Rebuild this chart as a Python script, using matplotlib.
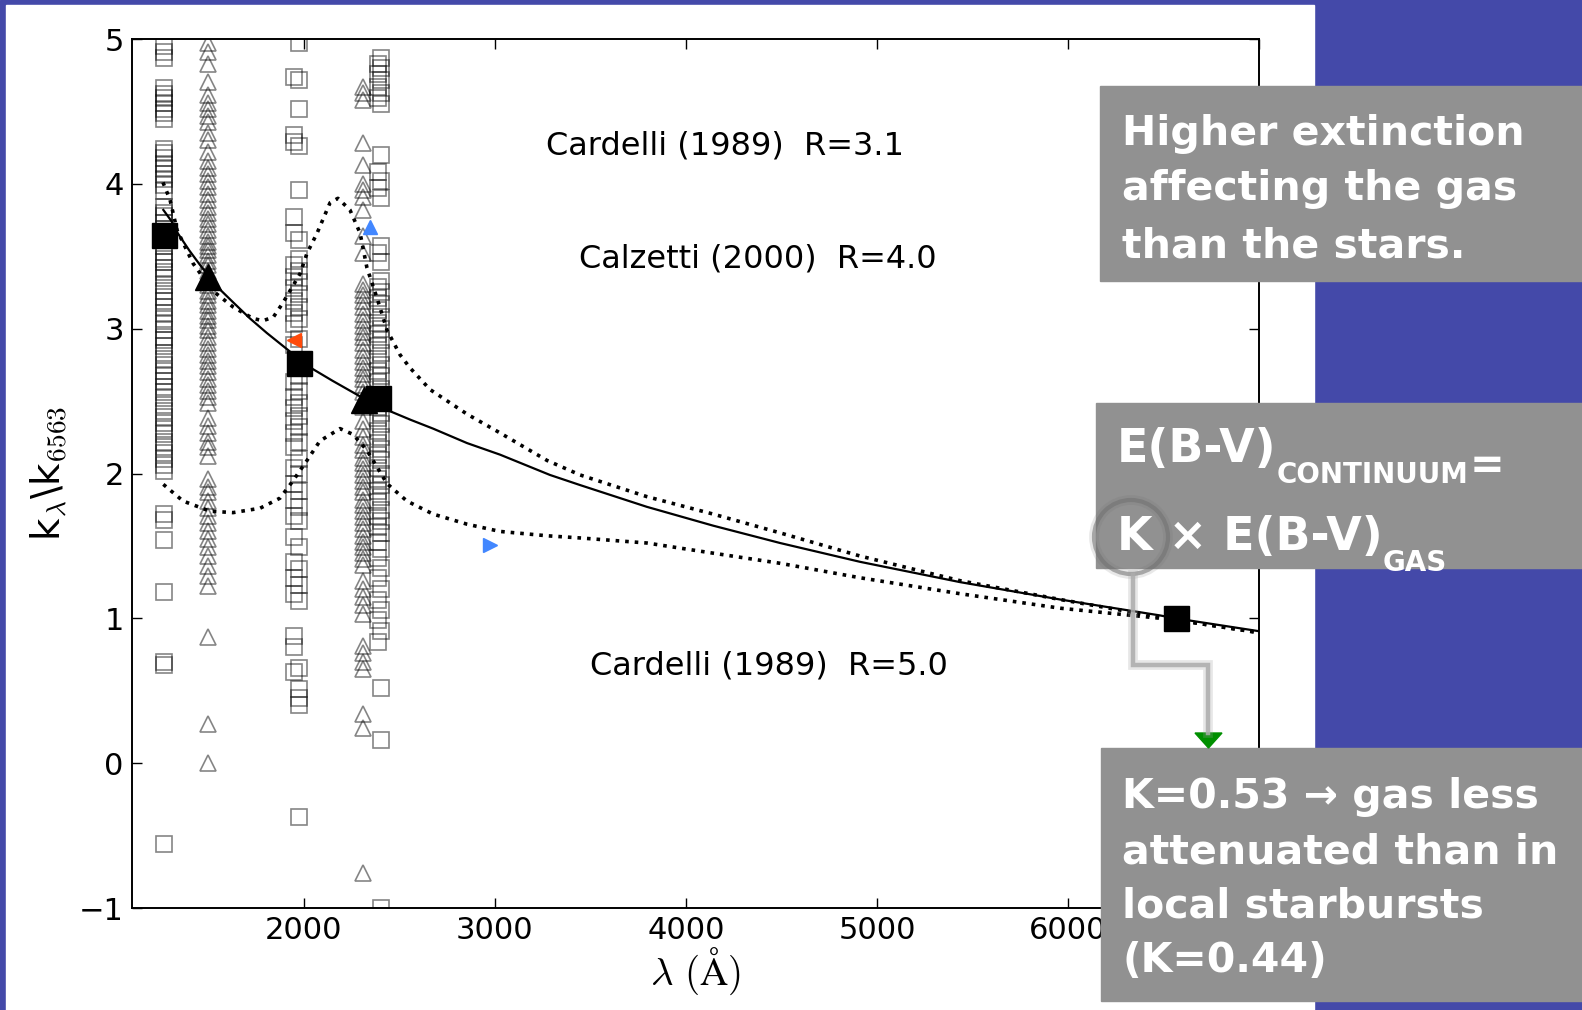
import numpy as np
import matplotlib.pyplot as plt
from matplotlib.patches import Rectangle, Circle, Polygon

plt.rcParams['mathtext.fontset'] = 'cm'
plt.rcParams['font.family'] = 'DejaVu Sans'

W, H = 1582, 1010

# --- extinction curves, normalised at H-alpha (6563 A) ---
calz_x = [1264, 1308, 1334, 1400, 1456, 1505, 1561, 1631, 1718, 1806, 1910, 1975,
          2048, 2150, 2257, 2350, 2451, 2560, 2676, 2854, 3027, 3288, 3446, 3795,
          4142, 4493, 4912, 5435, 5959, 6482, 6563, 7006]
calz_y = [3.82, 3.74, 3.67, 3.54, 3.44, 3.36, 3.27, 3.18, 3.07, 2.97, 2.86, 2.79,
          2.72, 2.64, 2.56, 2.49, 2.43, 2.37, 2.31, 2.21, 2.13, 1.99, 1.92, 1.77,
          1.64, 1.52, 1.39, 1.25, 1.13, 1.02, 1.0, 0.91]

card31_x = [1262, 1299, 1336, 1420, 1524, 1629, 1734, 1786, 1840, 1891, 1980, 2016,
            2069, 2137, 2178, 2241, 2294, 2330, 2383, 2435, 2503, 2555, 2660, 2854,
            3027, 3273, 3446, 3796, 4142, 4493, 4912, 5435, 5959, 6561, 7006]
card31_y = [4.01, 3.89, 3.68, 3.45, 3.26, 3.15, 3.07, 3.055, 3.08, 3.18, 3.38, 3.52,
            3.66, 3.87, 3.90, 3.82, 3.66, 3.42, 3.21, 2.99, 2.82, 2.73, 2.58, 2.41,
            2.28, 2.09, 1.99, 1.84, 1.72, 1.59, 1.43, 1.26, 1.13, 0.99, 0.90]

card50_x = [1264, 1367, 1508, 1629, 1770, 1875, 1943, 2016, 2084, 2189, 2257, 2330,
            2435, 2539, 2676, 2854, 3027, 3273, 3446, 3796, 4142, 4493, 4912, 5435,
            5959, 6561, 7006]
card50_y = [1.925, 1.81, 1.74, 1.73, 1.76, 1.83, 1.95, 2.09, 2.225, 2.31, 2.27, 2.16,
            1.93, 1.81, 1.72, 1.65, 1.60, 1.57, 1.555, 1.52, 1.45, 1.38, 1.28, 1.17,
            1.07, 0.99, 0.90]

# --- individual galaxies (open grey markers) ---
sq1_x = 1265
sq1_y = [4.95, 4.91, 4.87, 4.66, 4.62, 4.59, 4.56, 4.52, 4.49, 4.45,
         4.24, 4.21, 4.18, 4.14, 4.11, 4.07, 4.03, 3.99, 3.95,
         3.84, 3.80, 3.78, 3.73, 3.69, 3.61, 3.57, 3.53, 3.48, 3.46, 3.42, 3.39,
         3.35, 3.30, 3.26, 3.22, 3.19, 3.15, 3.11, 3.07, 3.03, 2.99, 2.94, 2.92,
         2.88, 2.83, 2.79, 2.75, 2.71, 2.67, 2.64, 2.60, 2.56, 2.52, 2.47, 2.43,
         2.39, 2.35, 2.31, 2.27, 2.22, 2.18, 2.14, 2.10, 2.06, 2.02,
         1.72, 1.68, 1.54, 1.18, 0.70, 0.68, -0.56]

tri2_x = 1500
tri2_y = [4.97, 4.91, 4.83, 4.70, 4.61, 4.56, 4.52, 4.47, 4.43, 4.35, 4.30, 4.22,
          4.16, 4.11, 4.07, 4.02, 3.98, 3.93, 3.89, 3.84, 3.80, 3.76, 3.72, 3.68,
          3.64, 3.60, 3.57, 3.54, 3.51, 3.47, 3.44, 3.40, 3.37, 3.33, 3.30, 3.26,
          3.23, 3.19, 3.16, 3.12, 3.09, 3.06, 3.02, 2.99, 2.94, 2.90, 2.86, 2.82,
          2.78, 2.74, 2.70, 2.65, 2.61, 2.57, 2.53, 2.49, 2.38, 2.33, 2.28, 2.22,
          2.18, 2.12, 1.96, 1.91, 1.87, 1.81, 1.76, 1.71, 1.66, 1.60, 1.55, 1.49,
          1.43, 1.36, 1.29, 1.22, 0.87, 0.27, 0.0]

sq3_x = [1975, 1950]
sq3a_y = [4.97, 4.72, 4.52, 4.26, 3.96, 3.61, 3.48, 3.40, 3.32, 3.24, 3.15, 3.07,
          2.93, 2.67, 2.57, 2.49, 2.40, 2.32, 2.22, 2.10, 2.00, 1.88, 1.77, 1.67,
          1.49, 1.34, 1.23, 1.12, 0.66, 0.51, 0.45, 0.40, -0.37]
sq3b_y = [4.74, 4.34, 4.29, 3.77, 3.66, 3.44, 3.36, 3.28, 3.19, 3.11, 3.03, 2.89,
          2.63, 2.53, 2.45, 2.36, 2.28, 2.18, 2.04, 1.93, 1.82, 1.71, 1.56, 1.39,
          1.28, 1.17, 0.88, 0.80, 0.63]

tri4_x = 2310
tri4_y = [4.67, 4.63, 4.58, 4.28, 4.13, 4.00, 3.96, 3.91, 3.82, 3.64, 3.52, 3.31,
          3.27, 3.23, 3.19, 3.15, 3.10, 3.06, 3.02, 2.98, 2.94, 2.90, 2.85, 2.81,
          2.77, 2.73, 2.69, 2.65, 2.61, 2.56, 2.51, 2.46, 2.36, 2.31, 2.25, 2.20,
          2.16, 2.11, 2.07, 2.03, 1.99, 1.95, 1.91, 1.87, 1.82, 1.78, 1.74, 1.70,
          1.66, 1.62, 1.57, 1.53, 1.49, 1.45, 1.41, 1.37, 1.26, 1.20, 1.15, 1.09,
          1.03, 0.81, 0.76, 0.70, 0.65, 0.34, 0.24, -0.76]

sq5_x = [2405, 2390]
sq5a_y = [4.87, 4.80, 4.72, 4.63, 4.55, 4.20, 4.02, 3.90, 3.57, 3.46, 3.33, 3.25,
          3.17, 3.08, 3.00, 2.92, 2.83, 2.75, 2.67, 2.58, 2.50, 2.42, 2.34, 2.25,
          2.17, 2.09, 2.00, 1.92, 1.84, 1.75, 1.67, 1.59, 1.48, 1.35, 1.20, 1.06,
          0.91, 0.52, 0.16, -1.00]
sq5b_y = [4.83, 4.76, 4.67, 4.59, 4.08, 3.97, 3.52, 3.29, 3.21, 3.13, 3.04, 2.96,
          2.88, 2.79, 2.71, 2.63, 2.54, 2.46, 2.38, 2.29, 2.21, 2.13, 2.04, 1.96,
          1.88, 1.80, 1.71, 1.63, 1.53, 1.42, 1.28, 1.13, 0.99, 0.84]

# --- stacked values (filled black) ---
stack_sq_x = [1265, 1975, 2390, 6563]
stack_sq_y = [3.65, 2.76, 2.52, 1.0]
stack_tri_x = [1500, 2313]
stack_tri_y = [3.355, 2.51]

# --- single coloured points ---
red_pt = (1948, 2.92)
blue_up = (2346, 3.70)
blue_right = (2975, 1.504)

xticks = [2000, 3000, 4000, 5000, 6000, 7000]
xticklabels = ['2000', '3000', '4000', '5000', '6000', '']
yticks = [-1, 0, 1, 2, 3, 4, 5]

fig = plt.figure(figsize=(W / 100, H / 100), dpi=100)

# slide background
bg = fig.add_axes([0, 0, 1, 1], zorder=-2)
bg.set_xlim(0, W)
bg.set_ylim(H, 0)
bg.axis('off')
bg.add_patch(Rectangle((0, 0), W, H, color='#4449A9'))
bg.add_patch(Rectangle((6, 5), 1308, H, color='white'))

ax = fig.add_axes([132 / W, 1 - 908 / H, 1127 / W, 869 / H], zorder=1)
ax.set_facecolor('none')

grey = (0, 0, 0, 0.48)
mk = dict(ls='none', mfc='none', mec=grey, mew=1.2, ms=11)
ax.plot(np.full(len(sq1_y), sq1_x), sq1_y, marker='s', **mk)
ax.plot(np.full(len(tri2_y), tri2_x), tri2_y, marker='^', **mk)
ax.plot(np.full(len(sq3a_y), sq3_x[0]), sq3a_y, marker='s', **mk)
ax.plot(np.full(len(sq3b_y), sq3_x[1]), sq3b_y, marker='s', **mk)
ax.plot(np.full(len(tri4_y), tri4_x), tri4_y, marker='^', **mk)
ax.plot(np.full(len(sq5a_y), sq5_x[0]), sq5a_y, marker='s', **mk)
ax.plot(np.full(len(sq5b_y), sq5_x[1]), sq5b_y, marker='s', **mk)

ax.plot(calz_x, calz_y, color='k', lw=1.6)
ax.plot(card31_x, card31_y, color='k', ls=':', lw=2.6)
ax.plot(card50_x, card50_y, color='k', ls=':', lw=2.6)

ax.plot(stack_sq_x, stack_sq_y, 'ks', ms=18)
ax.plot(stack_tri_x, stack_tri_y, 'k^', ms=19)

ax.plot(*red_pt, marker='<', color='#FF4A0A', ms=10)
ax.plot(*blue_up, marker='^', color='#4287FF', ms=10)
ax.plot(*blue_right, marker='>', color='#4287FF', ms=10)

lab = dict(fontsize=23, ha='left', va='center')
ax.text(3266, 4.26, 'Cardelli (1989)  R=3.1', **lab)
ax.text(3439, 3.48, 'Calzetti (2000)  R=4.0', **lab)
ax.text(3497, 0.67, 'Cardelli (1989)  R=5.0', **lab)

ax.set_xlim(1100, 7000)
ax.set_ylim(-1, 5)
ax.set_xticks(xticks)
ax.set_xticklabels(xticklabels)
ax.set_yticks(yticks)
ax.tick_params(direction='in', top=True, right=True, length=7, width=1,
               labelsize=22, pad=6)
for s in ax.spines.values():
    s.set_linewidth(1.4)
ax.set_xlabel(r'$\lambda\ (\mathrm{\AA})$', fontsize=28, labelpad=0)
ax.set_ylabel(r'k$_\lambda$\k$_{6563}$', fontsize=28, labelpad=6)

# annotation layer on top of the plot
ov = fig.add_axes([0, 0, 1, 1], zorder=3)
ov.set_xlim(0, W)
ov.set_ylim(H, 0)
ov.axis('off')
box_c = '#919191'
ov.add_patch(Rectangle((1100, 86), W - 1100, 195, color=box_c))
ov.add_patch(Rectangle((1096, 403), W - 1096, 165, color=box_c))
ov.add_patch(Rectangle((1101, 748), W - 1101, 253, color=box_c))

tk = dict(color='white', fontsize=29.5, fontweight='bold', ha='left', va='baseline')
for txt, yb in [('Higher extinction', 145), ('affecting the gas', 200),
                ('than the stars.', 257)]:
    ov.text(1122, yb, txt, **tk)
for txt, yb in [('K=0.53 \u2192 gas less', 808), ('attenuated than in', 863),
                ('local starbursts', 918), ('(K=0.44)', 972)]:
    ov.text(1122, yb, txt, **tk)

tk2 = dict(color='white', fontweight='bold', va='baseline')
t1 = ov.text(1117, 462, 'E(B-V)', fontsize=33, **tk2)
t2 = ov.annotate('CONTINUUM', xy=(1, 0), xycoords=t1, xytext=(0, -8),
                 textcoords='offset points', fontsize=20, **tk2)
ov.annotate('=', xy=(1, 0), xycoords=t2, xytext=(1, 8),
            textcoords='offset points', fontsize=30, **tk2)
t3 = ov.text(1117, 550, 'K \u00d7 E(B-V)', fontsize=33, **tk2)
ov.annotate('GAS', xy=(1, 0), xycoords=t3, xytext=(0, -8),
            textcoords='offset points', fontsize=20, **tk2)

# pointer from the K factor down to the H-alpha point
path_x = [1133, 1133, 1208, 1208]
path_y = [575, 665, 665, 733]
ov.plot(path_x, path_y, color='#a0a0a0', lw=7, alpha=0.25, solid_joinstyle='miter')
ov.plot(path_x, path_y, color='#acacac', lw=3.2, alpha=0.85, solid_joinstyle='miter')
ov.add_patch(Circle((1131, 537), 37, fill=False, ec='#6a6a6a', lw=7, alpha=0.15))
ov.add_patch(Circle((1131, 537), 37, fill=False, ec='#707070', lw=3, alpha=0.55))
ov.add_patch(Polygon([(1195, 733), (1222, 733), (1208.5, 748)], color='#008F00'))

fig.savefig('out.png', dpi=100)
